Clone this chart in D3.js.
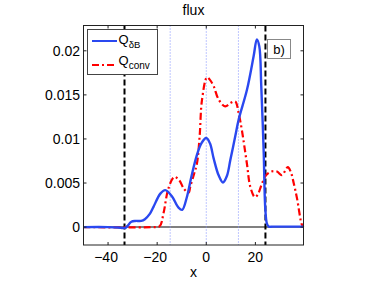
<!DOCTYPE html>
<html>
<head>
  <meta charset="utf-8">
  <script src="https://d3js.org/d3.v7.min.js"></script>
  <style>
    body { margin: 0; background: #fff; }
    svg { display: block; font-family: "Liberation Sans", Arial, sans-serif; }
  </style>
</head>
<body>
<svg></svg>
<script>
// Q_deltaB (solid blue)
var qdbX = [-50, -40, -36, -34, -33, -32.2, -30.5, -28.9, -26.5, -25, -23, -21.5, -18.7, -16.7, -14, -11.3, -9.8,
            -8, -6, -4, -2, 0, 1.5, 3, 5, 6.8, 8.4, 9.8, 11.8, 13.2, 16.6, 19.3, 20.6, 21.6, 22.4, 23.4, 24, 24.7, 25.5, 27, 39.6];
var qdbY = [0, 0, -0.00005, -0.0001, -0.0001, 0.0001, 0.0006, 0.0007, 0.0007, 0.0009, 0.0015, 0.0023, 0.0038, 0.0042, 0.0035, 0.0022, 0.00196,
            0.0033, 0.0058, 0.0080, 0.0095, 0.0101, 0.0095, 0.0078, 0.0059, 0.00506, 0.0058, 0.0076, 0.0103, 0.0122, 0.0156, 0.0194, 0.0213, 0.0205, 0.016, 0.0084, 0.0023, 0.0004, 0.00005, 0.00005, 0.00005];

// Q_conv (red dash-dot)
var qconvX = [-50, -22, -19, -17.4, -15.4, -13, -11, -9, -7.2, -6.5, -5, -3.8, -2.7, -1.75, 0.3, 1.5, 3, 5, 7.7, 10, 11.8, 13.2, 14.5, 16.5,
              18, 19.8, 21, 22.5, 24.4, 26.5, 28.8, 30.8, 33.2, 34.5, 35.6, 37, 38.9, 39.6];
var qconvY = [0, 0, 0.0001, 0.0016, 0.0044, 0.0057, 0.0053, 0.0043, 0.0039, 0.0046, 0.006, 0.0072, 0.0103, 0.0144, 0.017, 0.0167, 0.016, 0.0145, 0.0137, 0.0141, 0.01425, 0.0129, 0.011, 0.0073,
              0.0045, 0.0034, 0.0037, 0.0048, 0.0059, 0.0063, 0.0063, 0.0059, 0.0068, 0.0062, 0.005, 0.0032, 0.0003, 0];

var dashedX = [-33.3, 24.1];
var dottedX = [-14.7, 0, 13.1];
var xTicks = [-40, -20, 0, 20];
var yTicks = [0, 0.005, 0.01, 0.015, 0.02];
var yTickLabels = ["0", "0.005", "0.01", "0.015", "0.02"];

var W = 374, H = 281;
var pLeft = 83.5, pRight = 303.5, pTop = 25.5, pBottom = 245;

var svg = d3.select("svg").attr("width", W).attr("height", H);

var x = d3.scaleLinear().domain([-50, 39.6]).range([pLeft, pRight]);
var y = d3.scaleLinear().domain([-0.00203, 0.02287]).range([pBottom, pTop]);

// zero line
svg.append("line")
  .attr("x1", pLeft).attr("x2", pRight)
  .attr("y1", y(0)).attr("y2", y(0))
  .attr("stroke", "#808080").attr("stroke-width", 2);

// reference verticals
svg.selectAll(".dot-v").data(dottedX).enter().append("line")
  .attr("x1", d => x(d)).attr("x2", d => x(d))
  .attr("y1", pTop).attr("y2", pBottom)
  .attr("stroke", "#7f8fff").attr("stroke-width", 1)
  .attr("stroke-dasharray", "1,2");

svg.selectAll(".dash-v").data(dashedX).enter().append("line")
  .attr("x1", d => x(d)).attr("x2", d => x(d))
  .attr("y1", pTop).attr("y2", pBottom)
  .attr("stroke", "#000").attr("stroke-width", 2)
  .attr("stroke-dasharray", "6,3");

var line = d3.line().x(d => x(d[0])).y(d => y(d[1])).curve(d3.curveCatmullRom.alpha(0.5));

svg.append("path")
  .datum(d3.zip(qconvX, qconvY))
  .attr("d", line)
  .attr("fill", "none").attr("stroke", "#ff0000").attr("stroke-width", 2.2)
  .attr("stroke-dasharray", "7,3,2,3");

svg.append("path")
  .datum(d3.zip(qdbX, qdbY))
  .attr("d", line)
  .attr("fill", "none").attr("stroke", "#2a48f0").attr("stroke-width", 2.4);

// box
svg.append("rect")
  .attr("x", pLeft).attr("y", pTop)
  .attr("width", pRight - pLeft).attr("height", pBottom - pTop)
  .attr("fill", "none").attr("stroke", "#222").attr("stroke-width", 1);

// ticks (inward, all four sides)
var tl = 3;
xTicks.forEach(function (t) {
  svg.append("line").attr("x1", x(t)).attr("x2", x(t)).attr("y1", pBottom).attr("y2", pBottom - tl).attr("stroke", "#222");
  svg.append("line").attr("x1", x(t)).attr("x2", x(t)).attr("y1", pTop).attr("y2", pTop + tl).attr("stroke", "#222");
  svg.append("text").attr("x", x(t) - (t < 0 ? 2 : 0)).attr("y", 262)
    .attr("text-anchor", "middle").attr("font-size", 14)
    .text(t < 0 ? "\u2212" + Math.abs(t) : t);
});
yTicks.forEach(function (t, i) {
  svg.append("line").attr("x1", pLeft).attr("x2", pLeft + tl).attr("y1", y(t)).attr("y2", y(t)).attr("stroke", "#222");
  svg.append("line").attr("x1", pRight).attr("x2", pRight - tl).attr("y1", y(t)).attr("y2", y(t)).attr("stroke", "#222");
  svg.append("text").attr("x", 80).attr("y", y(t) + 5)
    .attr("text-anchor", "end").attr("font-size", 14)
    .text(yTickLabels[i]);
});

// title and axis label
svg.append("text").attr("x", (pLeft + pRight) / 2).attr("y", 15)
  .attr("text-anchor", "middle").attr("font-size", 14).text("flux");
svg.append("text").attr("x", (pLeft + pRight) / 2).attr("y", 277)
  .attr("text-anchor", "middle").attr("font-size", 14).text("x");

// legend
var lg = svg.append("g");
lg.append("rect").attr("x", 87.5).attr("y", 29.5).attr("width", 70).attr("height", 45)
  .attr("fill", "#fff").attr("stroke", "#444").attr("stroke-width", 1);
lg.append("line").attr("x1", 92).attr("x2", 117).attr("y1", 41).attr("y2", 41)
  .attr("stroke", "#2a48f0").attr("stroke-width", 2);
lg.append("line").attr("x1", 92).attr("x2", 117).attr("y1", 65).attr("y2", 65)
  .attr("stroke", "#ff0000").attr("stroke-width", 2).attr("stroke-dasharray", "7,3,2,3");
var t1 = lg.append("text").attr("x", 118.5).attr("y", 44).attr("font-size", 13);
t1.append("tspan").text("Q");
t1.append("tspan").attr("font-size", 9.5).attr("dy", 4).text("\u03b4B");
var t2 = lg.append("text").attr("x", 118.5).attr("y", 65).attr("font-size", 13);
t2.append("tspan").text("Q");
t2.append("tspan").attr("font-size", 10).attr("dy", 4).text("conv");

// panel label
svg.append("rect").attr("x", 267.5).attr("y", 39.5).attr("width", 23).attr("height", 19)
  .attr("fill", "#fff").attr("stroke", "#888").attr("stroke-width", 1);
svg.append("text").attr("x", 279).attr("y", 54).attr("text-anchor", "middle")
  .attr("font-size", 13).text("b)");
</script>
</body>
</html>
